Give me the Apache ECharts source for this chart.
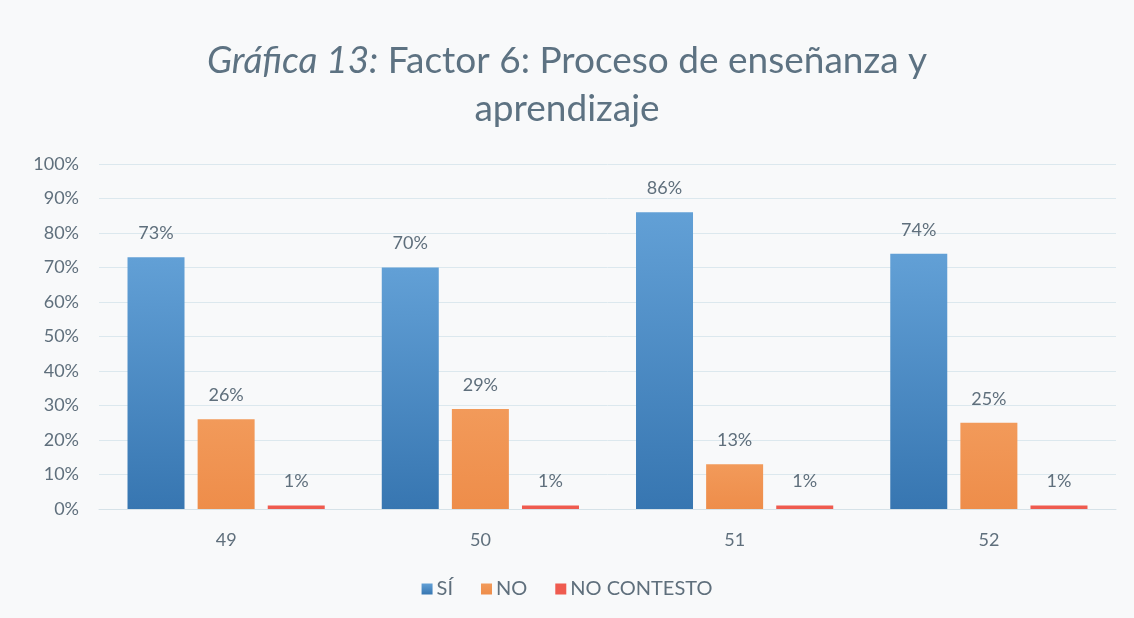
<!DOCTYPE html>
<html>
<head>
<meta charset="utf-8">
<script src="https://cdn.jsdelivr.net/npm/echarts@6/dist/echarts.min.js"></script>
<style>
  html, body { margin: 0; padding: 0; background: #f8f9fa; }
  #chart { width: 1134px; height: 618px; }
</style>
</head>
<body>
<div id="chart"></div>
<script>
// preguntas del factor 6
const categories = ['49', '50', '51', '52'];
const si = [73, 70, 86, 74];          // %
const no = [26, 29, 13, 25];          // %
const noContesto = [1, 1, 1, 1];      // %

const textColor = '#5f6f7c';
const font = 'Lato, "Open Sans", sans-serif';

let chart = echarts.init(document.getElementById('chart'));

let labelOpt = {
  show: true,
  position: 'top',
  distance: 15,
  color: textColor,
  fontSize: 18,
  fontFamily: font,
  formatter: '{c}%'
};

let option = {
  backgroundColor: '#f8f9fa',
  title: {
    text: '{i|Gráfica 13:} Factor 6: Proceso de enseñanza y\naprendizaje',
    left: 'center',
    top: 32,
    textStyle: {
      color: '#5d7282',
      fontSize: 37,
      fontWeight: 'normal',
      fontFamily: font,
      lineHeight: 48,
      rich: {
        i: {
          fontStyle: 'italic',
          fontSize: 37,
          color: '#5d7282',
          fontFamily: font
        }
      }
    }
  },
  legend: {
    bottom: 14,
    left: 'center',
    itemWidth: 11,
    itemHeight: 11,
    itemGap: 28,
    icon: 'rect',
    textStyle: { color: textColor, fontSize: 20, fontFamily: font, padding: [0, 0, 0, -1] },
    data: ['SÍ', 'NO', 'NO CONTESTO']
  },
  grid: {
    left: 99,
    right: 18,
    top: 164,
    bottom: 109
  },
  xAxis: {
    type: 'category',
    data: categories,
    axisLine: { lineStyle: { color: '#d6e2e8' } },
    axisTick: { show: false },
    axisLabel: { color: textColor, fontSize: 18, fontFamily: font, margin: 22 }
  },
  yAxis: {
    type: 'value',
    min: 0,
    max: 100,
    interval: 10,
    axisLine: { show: false },
    axisTick: { show: false },
    splitLine: { lineStyle: { color: '#dce8ee' } },
    axisLabel: { color: textColor, fontSize: 18, fontFamily: font, margin: 20, formatter: '{value}%' }
  },
  series: [{
    name: 'SÍ',
    type: 'bar',
    data: si,
    barWidth: 57,
    barGap: '23%',
    label: labelOpt,
    itemStyle: {
      color: new echarts.graphic.LinearGradient(0, 0, 0, 1, [
        { offset: 0, color: '#62a0d6' },
        { offset: 1, color: '#3776b1' }
      ])
    }
  }, {
    name: 'NO',
    type: 'bar',
    data: no,
    barWidth: 57,
    barGap: '23%',
    label: labelOpt,
    itemStyle: {
      color: new echarts.graphic.LinearGradient(0, 0, 0, 1, [
        { offset: 0, color: '#f29a5a' },
        { offset: 1, color: '#ee8d4a' }
      ])
    }
  }, {
    name: 'NO CONTESTO',
    type: 'bar',
    data: noContesto,
    barWidth: 57,
    barGap: '23%',
    label: labelOpt,
    itemStyle: { color: '#ef5b4f' }
  }]
};

chart.setOption(option);
</script>
</body>
</html>
